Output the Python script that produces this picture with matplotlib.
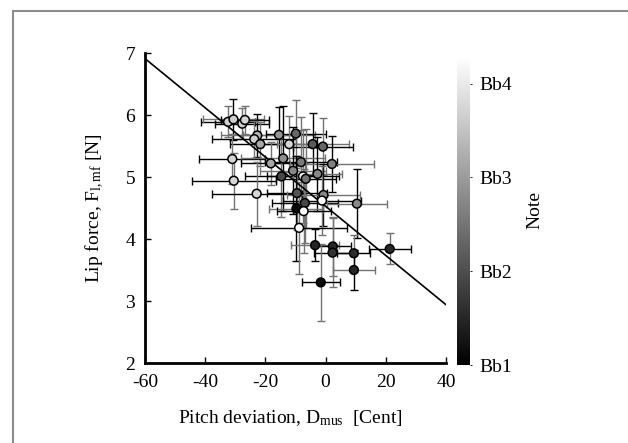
import matplotlib
matplotlib.use('Agg')
import matplotlib.pyplot as plt
import numpy as np
from matplotlib.lines import Line2D
import matplotlib.cm as cm
import matplotlib.colors as mcolors

# ---- data ----
pitch_dev = [-32.4, -30.6, -27.7, -26.8, -22.7, -23.7, -21.7, -15.5, -9.9, -12.1,
             -4.3, -0.9, -31.0, -14.1, -18.2, -8.2, 2.1, -30.5, -14.7, -10.8,
             -7.5, -6.6, -2.7, -22.9, -9.5, -0.7, -1.2, -6.9, -9.7, -7.3,
             -8.8, -3.5, 2.4, 2.3, 10.4, 21.3, 9.4, 9.4, -1.6]
lip_force = [5.89, 5.93, 5.86, 5.92, 5.67, 5.61, 5.53, 5.68, 5.70, 5.53,
             5.53, 5.49, 5.29, 5.30, 5.22, 5.24, 5.21, 4.94, 5.01, 5.10,
             5.01, 4.97, 5.05, 4.73, 4.74, 4.71, 4.62, 4.58, 4.49, 4.45,
             4.18, 3.90, 3.88, 3.78, 4.57, 3.84, 3.77, 3.50, 3.30]
pitch_err = [9, 10, 9, 8, 12, 14, 10, 12, 10, 9,
             12, 10, 11, 14, 10, 12, 14, 14, 12, 11,
             12, 10, 8, 15, 10, 12, 13, 11, 9, 9,
             16, 8, 6, 6, 10, 7, 5.5, 7, 6.3]
force_err = [0.25, 0.33, 0.25, 0.22, 0.35, 0.30, 0.35, 0.45, 0.55, 0.45,
             0.50, 0.46, 0.40, 0.85, 0.35, 0.72, 0.45, 0.45, 0.66, 0.70,
             0.75, 0.80, 0.60, 0.52, 0.60, 0.50, 0.55, 0.65, 0.85, 0.68,
             0.74, 0.26, 0.47, 0.56, 0.56, 0.25, 0.30, 0.33, 0.62]
note_midi = [66, 66, 66, 67, 62, 66, 60, 57, 50, 67,
             48, 50, 67, 56, 60, 53, 54, 67, 45, 55,
             73, 52, 55, 67, 47, 55, 73, 45, 36, 73,
             73, 40, 40, 42, 55, 40, 41, 40, 36]

fit_x = [-60, 40]
fit_y = [6.91, 2.94]

x_ticks = [-60, -40, -20, 0, 20, 40]
y_ticks = [2, 3, 4, 5, 6, 7]
note_ticks = [34, 46, 58, 70]
note_labels = ['Bb1', 'Bb2', 'Bb3', 'Bb4']
note_range = [34, 73.4]

# ---- style ----
plt.rcParams['font.family'] = ['Liberation Serif', 'DejaVu Serif']
plt.rcParams['mathtext.fontset'] = 'custom'
plt.rcParams['mathtext.rm'] = 'Liberation Serif'
plt.rcParams['mathtext.it'] = 'Liberation Serif:italic'
plt.rcParams['axes.unicode_minus'] = False
FS = 14

fig = plt.figure(figsize=(6.28, 4.43), dpi=100)
W, H = 628, 443

# outer frame (gray)
fig.add_artist(Line2D([13 / W, 13 / W], [0, 1 - 11 / H], transform=fig.transFigure,
                      color='0.55', lw=1.5))
fig.add_artist(Line2D([13 / W, 1], [1 - 11 / H, 1 - 11 / H], transform=fig.transFigure,
                      color='0.55', lw=1.5))

ax = fig.add_axes([145 / W, 1 - 363 / H, 301 / W, 310 / H])

norm = mcolors.Normalize(vmin=note_range[0], vmax=note_range[1])
cmap = plt.get_cmap('gray')

for i in range(len(pitch_dev)):
    xc = 'k' if i % 3 != 1 else '0.45'
    yc = '0.45' if i % 3 != 1 else 'k'
    ax.errorbar(pitch_dev[i], lip_force[i], xerr=pitch_err[i], fmt='none',
                ecolor=xc, elinewidth=1.0, capsize=3, capthick=1.0, zorder=2)
    ax.errorbar(pitch_dev[i], lip_force[i], yerr=force_err[i], fmt='none',
                ecolor=yc, elinewidth=1.0, capsize=3, capthick=1.0, zorder=2)

ax.plot(fit_x, fit_y, color='k', lw=1.2, zorder=3)

ax.scatter(pitch_dev, lip_force, c=note_midi, cmap=cmap, norm=norm, s=40,
           edgecolors='k', linewidths=1.1, zorder=4)

ax.set_xlim(-60, 40)
ax.set_ylim(2, 7)
ax.set_xticks(x_ticks)
ax.set_yticks(y_ticks)
for s in ['top', 'right']:
    ax.spines[s].set_visible(False)
for s in ['left', 'bottom']:
    ax.spines[s].set_linewidth(2)
ax.tick_params(direction='in', length=4, width=1, labelsize=FS)
ax.tick_params(axis='x', pad=8)
ax.tick_params(axis='y', pad=7)

fig.text(290 / W, 1 - 418 / H, r'Pitch deviation, D$_{\rm mus}$  [Cent]',
         ha='center', va='center', fontsize=FS)
fig.text(95 / W, 1 - 208 / H, r'Lip force, F$_{\rm l,mf}$ [N]',
         ha='center', va='center', rotation=90, fontsize=FS)

# colorbar
cax = fig.add_axes([457 / W, 1 - 365 / H, 13 / W, 308 / H])
sm = cm.ScalarMappable(norm=norm, cmap=cmap)
cb = fig.colorbar(sm, cax=cax)
cb.outline.set_visible(False)
cb.set_ticks(note_ticks)
cb.set_ticklabels(note_labels)
cax.tick_params(length=1.5, width=0.6, pad=5, labelsize=FS)
fig.text(535 / W, 1 - 210 / H, 'Note', ha='center', va='center', rotation=90,
         fontsize=FS)

fig.savefig('out.png', dpi=100)
